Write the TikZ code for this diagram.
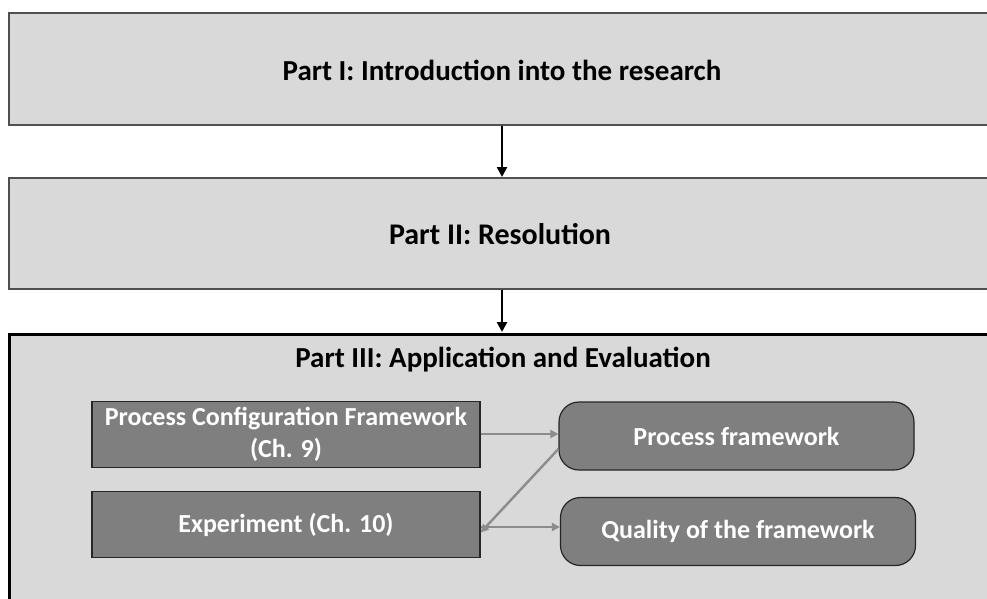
\documentclass[tikz,border=0pt]{standalone}
\usepackage{fontspec}
\setmainfont{Carlito}
\usetikzlibrary{arrows.meta}
\definecolor{panel}{HTML}{D9D9D9}
\definecolor{darkbox}{HTML}{7F7F7F}
\definecolor{linkgray}{HTML}{8C8C8C}
\definecolor{edgegray}{HTML}{505050}
\tikzset{
  partbox/.style={draw=edgegray, line width=1.8pt, fill=panel},
  parttext/.style={font=\bfseries\fontsize{29}{34}\selectfont, text=black},
  chapbox/.style={draw=black!85, line width=1.2pt, fill=darkbox, minimum width=388pt, minimum height=66pt, align=center, text=white, font=\bfseries\fontsize{26}{32}\selectfont, inner sep=0pt},
  resultbox/.style={draw=black!85, line width=1.2pt, fill=darkbox, rounded corners=20pt, minimum width=355pt, minimum height=68pt, text=white, font=\bfseries\fontsize{26}{30}\selectfont, inner sep=0pt},
  mainarrow/.style={-{Triangle[length=10pt,width=10pt]}, line width=2.6pt, black},
  linkarrow/.style={-{Triangle[length=8pt,width=8pt]}, line width=2.4pt, linkgray},
}
\begin{document}
\begin{tikzpicture}[x=1pt,y=-1pt]
\useasboundingbox (0,0) rectangle (987,599);
\clip (0,0) rectangle (987,599);

% three stacked parts of the research
\draw[partbox] (9,13) rectangle (1000,125);
\node[parttext] (p1) at (502,70) {Part I: Introduction into the research};
\draw[partbox] (9,178) rectangle (1000,289);
\node[parttext, font=\bfseries\fontsize{30}{34}\selectfont] (p2) at (500,234) {Part II: Resolution};
\draw[draw=black, line width=3pt, fill=panel] (9,334) rectangle (1000,620);
\node[parttext] (p3) at (503,360) {Part III: Application and Evaluation};

\coordinate (p1b) at (502,126);
\coordinate (p2t) at (502,177);
\coordinate (p2b) at (502,290);
\coordinate (p3t) at (502,332);
\draw[mainarrow] (p1b) -- (p2t);
\draw[mainarrow] (p2b) -- (p3t);

% chapters and their results
\node[chapbox] (pcf) at (286,434.5) {Process Configuration Framework\\(Ch. 9)};
\node[chapbox] (exp) at (286,524.5) {Experiment (Ch. 10)};
\node[resultbox] (pf) at (736.5,436) {Process framework};
\node[resultbox] (qf) at (738,531.5) {Quality of the framework};

\draw[linkarrow] (pcf.east |- 0,434) -- (pf.west |- 0,434);
\draw[linkarrow] ([yshift=-13pt]pf.west) -- ([yshift=-8pt]exp.east);
\draw[linkarrow] (exp.east |- 0,527) -- (qf.west |- 0,527);
\end{tikzpicture}
\end{document}
